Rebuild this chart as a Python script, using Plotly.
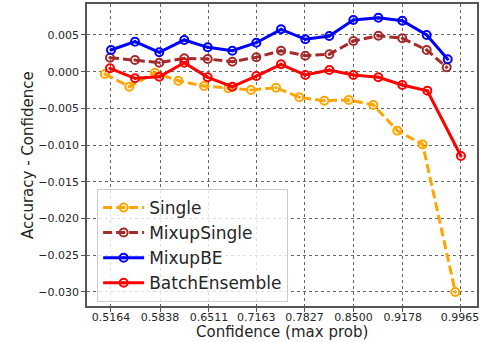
import plotly.graph_objects as go

# reliability gap per confidence bin
single_x = [0.5081, 0.5416, 0.5769, 0.6090, 0.6443, 0.6777, 0.7090, 0.7434,
            0.7754, 0.8098, 0.8434, 0.8772, 0.9102, 0.9451, 0.9900]
single_y = [-0.00031, -0.00204, -0.00014, -0.00123, -0.00195, -0.00226, -0.00249, -0.00218,
            -0.00349, -0.00395, -0.00385, -0.00453, -0.00803, -0.00991, -0.03000]

mixup_single_x = [0.5150, 0.5494, 0.5828, 0.6172, 0.6494, 0.6833, 0.7163, 0.7503,
                  0.7837, 0.8167, 0.8497, 0.8841, 0.9171, 0.9506, 0.9781]
mixup_single_y = [0.00191, 0.00159, 0.00123, 0.00182, 0.00173, 0.00136, 0.00196, 0.00286,
                  0.00218, 0.00237, 0.00418, 0.00490, 0.00455, 0.00296, 0.00060]

mixup_be_x = [0.5164, 0.5494, 0.5828, 0.6172, 0.6494, 0.6833, 0.7163, 0.7503,
              0.7837, 0.8167, 0.8497, 0.8841, 0.9171, 0.9506, 0.9795]
mixup_be_y = [0.00296, 0.00409, 0.00264, 0.00432, 0.00332, 0.00286, 0.00395, 0.00577,
              0.00441, 0.00486, 0.00704, 0.00735, 0.00695, 0.00500, 0.00169]

batch_ens_x = [0.5150, 0.5494, 0.5828, 0.6172, 0.6494, 0.6833, 0.7163, 0.7503,
               0.7837, 0.8167, 0.8497, 0.8841, 0.9171, 0.9515, 0.9977]
batch_ens_y = [0.00046, -0.00090, -0.00068, 0.00123, -0.00076, -0.00204, -0.00059, 0.00101,
               -0.00045, 0.00023, -0.00045, -0.00076, -0.00181, -0.00259, -0.01148]

x_ticks = [0.5164, 0.5838, 0.6511, 0.7163, 0.7827, 0.8500, 0.9178, 0.9965]
y_ticks = [0.005, 0.0, -0.005, -0.010, -0.015, -0.020, -0.025, -0.030]

series = [
    ("Single", single_x, single_y, "orange", "dash"),
    ("MixupSingle", mixup_single_x, mixup_single_y, "brown", "dash"),
    ("MixupBE", mixup_be_x, mixup_be_y, "blue", "solid"),
    ("BatchEnsemble", batch_ens_x, batch_ens_y, "red", "solid"),
]

fig = go.Figure()
for name, xs, ys, color, dash in series:
    fig.add_trace(go.Scatter(
        x=xs, y=ys, name=name, mode="lines+markers",
        line=dict(color=color, width=3, dash="9px,4px" if dash == "dash" else "solid"),
        marker=dict(symbol="circle-open-dot", size=8, color=color, line=dict(width=2, color=color)),
    ))

axis_common = dict(
    showline=True, linecolor="#555", linewidth=1.5, mirror=True,
    showgrid=True, gridcolor="#666", gridwidth=0.8, griddash="dot",
    ticks="outside", ticklen=4, tickcolor="#555",
    tickfont=dict(family="DejaVu Sans", size=11, color="#262626"),
    zeroline=False, automargin=False, ticklabeloverflow="allow",
)

fig.update_xaxes(
    range=[0.4834, 1.0198], tickvals=x_ticks, ticktext=[f"{v:.4f}" for v in x_ticks],
    ticklabelstandoff=-4,
    **axis_common,
)
fig.update_yaxes(
    range=[-0.03191, 0.00922], tickvals=y_ticks, tickformat=".3f",
    **axis_common,
)

title_font = dict(family="DejaVu Sans", size=15, color="#262626")
fig.add_annotation(text="Confidence (max prob)", xref="paper", yref="paper",
                   x=0.5, y=-0.086, xanchor="center", yanchor="middle",
                   showarrow=False, font=title_font)
fig.add_annotation(text="Accuracy - Confidence", xref="paper", yref="paper",
                   x=-0.151, y=0.5, xanchor="center", yanchor="middle", textangle=-90,
                   showarrow=False, font=title_font)

fig.update_layout(
    width=480, height=342,
    margin=dict(l=87, r=3, t=4, b=36),
    paper_bgcolor="white", plot_bgcolor="white",
    showlegend=True,
    legend=dict(
        x=0.026, y=0.0135, xanchor="left", yanchor="bottom",
        bgcolor="rgba(255,255,255,0.8)", bordercolor="#ccc", borderwidth=1,
        font=dict(family="DejaVu Sans", size=17, color="#262626"),
        tracegroupgap=0, itemwidth=41,
    ),
)

# page body has a default 8px margin; drop it so the figure sits at 0,0
fig.write_html("out.html", config={"displayModeBar": False},
               post_script="document.body.style.margin='0';")
